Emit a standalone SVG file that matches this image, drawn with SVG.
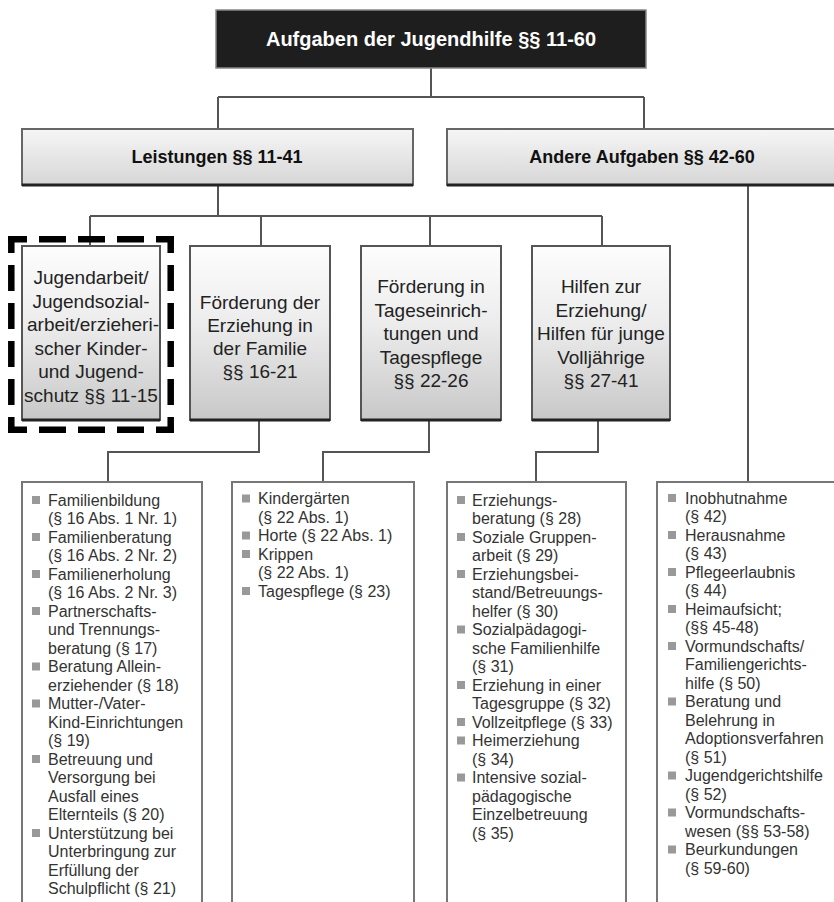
<svg xmlns="http://www.w3.org/2000/svg" width="834" height="902" viewBox="0 0 834 902">
<defs>
<linearGradient id="g2" x1="0" y1="0" x2="0" y2="1">
<stop offset="0" stop-color="#f6f6f6"/>
<stop offset="1" stop-color="#d6d6d6"/>
</linearGradient>
<linearGradient id="g3" x1="0" y1="0" x2="0" y2="1">
<stop offset="0" stop-color="#fdfdfd"/>
<stop offset="0.45" stop-color="#ececec"/>
<stop offset="1" stop-color="#c8c8c8"/>
</linearGradient>
<style>
.conn{fill:none;stroke:#555;stroke-width:2}
.b2{fill:url(#g2);stroke:#666;stroke-width:2}
.b3{fill:url(#g3);stroke:#555;stroke-width:2}
.shadow{stroke:#222;stroke-width:3}
.t2{font-family:"Liberation Sans",Arial,sans-serif;font-weight:bold;font-size:18px;fill:#111;text-anchor:middle}
.t3{font-family:"Liberation Sans",Arial,sans-serif;font-size:19px;fill:#222;text-anchor:middle}
.lst{fill:#fff;stroke:#777;stroke-width:2}
.li{font-family:"Liberation Sans",Arial,sans-serif;font-size:16px;fill:#333}
.bul{fill:#999}
.dash{stroke:#000;stroke-width:6.5;fill:none}
</style>
</defs>
<rect width="834" height="902" fill="#fff"/>

<g id="connectors">
<path class="conn" d="M431 68V97M218 97H644M218 97V129M644 97V129"/>
<path class="conn" d="M218 185V216M90 216H602M90 216V247M261 216V247M430 216V247M602 216V247"/>
<path class="conn" d="M748 185V482"/>
<path class="conn" d="M259 420V452H108V482"/>
<path class="conn" d="M429 420V452H323V482"/>
<path class="conn" d="M598 420V452H536V482"/>
</g>

<g id="root">
<rect x="216" y="10" width="430" height="58" fill="#1e1e1e" stroke="#888" stroke-width="1.5"/>
<text x="431" y="46" font-family="Liberation Sans, Arial, sans-serif" font-weight="bold" font-size="20" fill="#fff" text-anchor="middle">Aufgaben der Jugendhilfe §§ 11-60</text>
</g>

<g id="leistungen">
<rect class="b2" x="22" y="129" width="391" height="56"/>
<line class="shadow" x1="22" y1="185" x2="413" y2="185"/>
<text class="t2" x="217" y="163">Leistungen §§ 11-41</text>
</g>

<g id="andere">
<rect class="b2" x="447" y="129" width="400" height="56"/>
<line class="shadow" x1="447" y1="185" x2="840" y2="185"/>
<text class="t2" x="642" y="163">Andere Aufgaben §§ 42-60</text>
</g>

<g id="jugendarbeit">
<rect class="b3" x="22" y="246" width="138" height="174"/>
<line class="shadow" x1="22" y1="420" x2="160" y2="420"/>
<text class="t3"><tspan x="91" y="284">Jugendarbeit/</tspan><tspan x="91" y="307.5">Jugendsozial-</tspan><tspan x="93" y="331">arbeit/erzieheri-</tspan><tspan x="91" y="354.5">scher Kinder-</tspan><tspan x="91" y="378">und Jugend-</tspan><tspan x="91" y="401.5">schutz §§ 11-15</tspan></text>
<line class="dash" x1="8" y1="239.3" x2="174" y2="239.3" stroke-dasharray="27 12" stroke-dashoffset="8"/>
<line class="dash" x1="8" y1="429.7" x2="174" y2="429.7" stroke-dasharray="27 12" stroke-dashoffset="8"/>
<line class="dash" x1="11.3" y1="236" x2="11.3" y2="433" stroke-dasharray="26 12" stroke-dashoffset="9"/>
<line class="dash" x1="170.7" y1="236" x2="170.7" y2="433" stroke-dasharray="26 12" stroke-dashoffset="9"/>
</g>

<g id="familie">
<rect class="b3" x="190" y="246" width="140" height="174"/>
<line class="shadow" x1="190" y1="420" x2="330" y2="420"/>
<text class="t3"><tspan x="260" y="309">Förderung der</tspan><tspan x="260" y="332">Erziehung in</tspan><tspan x="260" y="355">der Familie</tspan><tspan x="260" y="378">§§ 16-21</tspan></text>
</g>

<g id="tageseinrichtungen">
<rect class="b3" x="361" y="246" width="140" height="174"/>
<line class="shadow" x1="361" y1="420" x2="501" y2="420"/>
<text class="t3"><tspan x="431" y="293">Förderung in</tspan><tspan x="431" y="316.5">Tageseinrich-</tspan><tspan x="431" y="340">tungen und</tspan><tspan x="431" y="363.5">Tagespflege</tspan><tspan x="431" y="387">§§ 22-26</tspan></text>
</g>

<g id="hilfen">
<rect class="b3" x="532" y="246" width="138" height="174"/>
<line class="shadow" x1="532" y1="420" x2="670" y2="420"/>
<text class="t3"><tspan x="601" y="293">Hilfen zur</tspan><tspan x="601" y="316.5">Erziehung/</tspan><tspan x="601" y="340">Hilfen für junge</tspan><tspan x="601" y="363.5">Volljährige</tspan><tspan x="601" y="387">§§ 27-41</tspan></text>
</g>

<g id="liste-familie">
<path class="lst" d="M22 910V482H202V910"/>
<g class="bul"><rect x="32" y="496" width="8" height="8"/><rect x="32" y="533" width="8" height="8"/><rect x="32" y="570" width="8" height="8"/><rect x="32" y="607" width="8" height="8"/><rect x="32" y="662.5" width="8" height="8"/><rect x="32" y="699.5" width="8" height="8"/><rect x="32" y="755" width="8" height="8"/><rect x="32" y="829" width="8" height="8"/></g>
<text class="li"><tspan x="48" y="505.5">Familienbildung</tspan><tspan x="48" y="524">(§ 16 Abs. 1 Nr. 1)</tspan><tspan x="48" y="542.5">Familienberatung</tspan><tspan x="48" y="561">(§ 16 Abs. 2 Nr. 2)</tspan><tspan x="48" y="579.5">Familienerholung</tspan><tspan x="48" y="598">(§ 16 Abs. 2 Nr. 3)</tspan><tspan x="48" y="616.5">Partnerschafts-</tspan><tspan x="48" y="635">und Trennungs-</tspan><tspan x="48" y="653.5">beratung (§ 17)</tspan><tspan x="48" y="672">Beratung Allein-</tspan><tspan x="48" y="690.5">erziehender (§ 18)</tspan><tspan x="48" y="709">Mutter-/Vater-</tspan><tspan x="48" y="727.5">Kind-Einrichtungen</tspan><tspan x="48" y="746">(§ 19)</tspan><tspan x="48" y="764.5">Betreuung und</tspan><tspan x="48" y="783">Versorgung bei</tspan><tspan x="48" y="801.5">Ausfall eines</tspan><tspan x="48" y="820">Elternteils (§ 20)</tspan><tspan x="48" y="838.5">Unterstützung bei</tspan><tspan x="48" y="857">Unterbringung zur</tspan><tspan x="48" y="875.5">Erfüllung der</tspan><tspan x="48" y="894">Schulpflicht (§ 21)</tspan></text>
</g>

<g id="liste-tageseinrichtungen">
<path class="lst" d="M232 910V482H414V910"/>
<g class="bul"><rect x="242" y="494.5" width="8" height="8"/><rect x="242" y="531.5" width="8" height="8"/><rect x="242" y="550" width="8" height="8"/><rect x="242" y="587" width="8" height="8"/></g>
<text class="li"><tspan x="258" y="504">Kindergärten</tspan><tspan x="258" y="522.5">(§ 22 Abs. 1)</tspan><tspan x="258" y="541">Horte (§ 22 Abs. 1)</tspan><tspan x="258" y="559.5">Krippen</tspan><tspan x="258" y="578">(§ 22 Abs. 1)</tspan><tspan x="258" y="596.5">Tagespflege (§ 23)</tspan></text>
</g>

<g id="liste-hilfen">
<path class="lst" d="M447 910V482H626V910"/>
<g class="bul"><rect x="457" y="496" width="8" height="8"/><rect x="457" y="533" width="8" height="8"/><rect x="457" y="570" width="8" height="8"/><rect x="457" y="625.5" width="8" height="8"/><rect x="457" y="681" width="8" height="8"/><rect x="457" y="718" width="8" height="8"/><rect x="457" y="736.5" width="8" height="8"/><rect x="457" y="773.5" width="8" height="8"/></g>
<text class="li"><tspan x="472" y="505.5">Erziehungs-</tspan><tspan x="472" y="524">beratung (§ 28)</tspan><tspan x="472" y="542.5">Soziale Gruppen-</tspan><tspan x="472" y="561">arbeit (§ 29)</tspan><tspan x="472" y="579.5">Erziehungsbei-</tspan><tspan x="472" y="598">stand/Betreuungs-</tspan><tspan x="472" y="616.5">helfer (§ 30)</tspan><tspan x="472" y="635">Sozialpädagogi-</tspan><tspan x="472" y="653.5">sche Familienhilfe</tspan><tspan x="472" y="672">(§ 31)</tspan><tspan x="472" y="690.5">Erziehung in einer</tspan><tspan x="472" y="709">Tagesgruppe (§ 32)</tspan><tspan x="472" y="727.5">Vollzeitpflege (§ 33)</tspan><tspan x="472" y="746">Heimerziehung</tspan><tspan x="472" y="764.5">(§ 34)</tspan><tspan x="472" y="783">Intensive sozial-</tspan><tspan x="472" y="801.5">pädagogische</tspan><tspan x="472" y="820">Einzelbetreuung</tspan><tspan x="472" y="838.5">(§ 35)</tspan></text>
</g>

<g id="liste-andere">
<path class="lst" d="M657 910V482H840"/>
<g class="bul"><rect x="668" y="494" width="8" height="8"/><rect x="668" y="531" width="8" height="8"/><rect x="668" y="568" width="8" height="8"/><rect x="668" y="605" width="8" height="8"/><rect x="668" y="642" width="8" height="8"/><rect x="668" y="697.5" width="8" height="8"/><rect x="668" y="771.5" width="8" height="8"/><rect x="668" y="808.5" width="8" height="8"/><rect x="668" y="845.5" width="8" height="8"/></g>
<text class="li"><tspan x="685" y="503.5">Inobhutnahme</tspan><tspan x="685" y="522">(§ 42)</tspan><tspan x="685" y="540.5">Herausnahme</tspan><tspan x="685" y="559">(§ 43)</tspan><tspan x="685" y="577.5">Pflegeerlaubnis</tspan><tspan x="685" y="596">(§ 44)</tspan><tspan x="685" y="614.5">Heimaufsicht;</tspan><tspan x="685" y="633">(§§ 45-48)</tspan><tspan x="685" y="651.5">Vormundschafts/</tspan><tspan x="685" y="670">Familiengerichts-</tspan><tspan x="685" y="688.5">hilfe (§ 50)</tspan><tspan x="685" y="707">Beratung und</tspan><tspan x="685" y="725.5">Belehrung in</tspan><tspan x="685" y="744">Adoptionsverfahren</tspan><tspan x="685" y="762.5">(§ 51)</tspan><tspan x="685" y="781">Jugendgerichtshilfe</tspan><tspan x="685" y="799.5">(§ 52)</tspan><tspan x="685" y="818">Vormundschafts-</tspan><tspan x="685" y="836.5">wesen (§§ 53-58)</tspan><tspan x="685" y="855">Beurkundungen</tspan><tspan x="685" y="873.5">(§ 59-60)</tspan></text>
</g>
</svg>
